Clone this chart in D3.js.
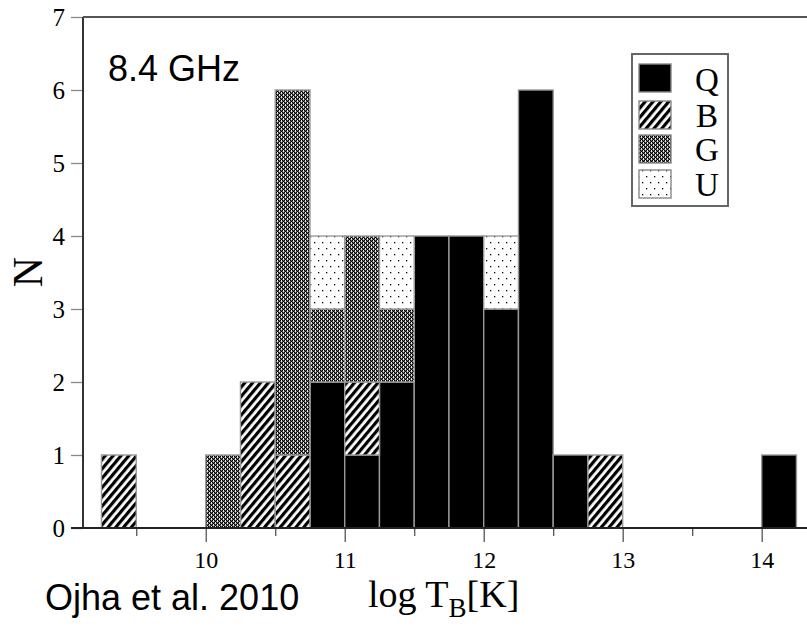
<!DOCTYPE html>
<html><head><meta charset="utf-8">
<script src="https://cdn.jsdelivr.net/npm/d3@7"></script>
<style>
body{margin:0;background:#fff;}
svg{display:block;}
</style></head>
<body>
<svg id="chart" width="807" height="626"></svg>
<script>
// ---- data ----
const binStart = [9.25, 10.0, 10.25, 10.5, 10.75, 11.0, 11.25, 11.5, 11.75, 12.0, 12.25, 12.5, 12.75, 14.0];
const seriesQ  = [0,    0,    0,     0,    2,     1,    2,     4,    4,     3,    6,     1,    0,     1];
const seriesB  = [1,    0,    2,     1,    0,     1,    0,     0,    0,     0,    0,     0,    1,     0];
const seriesG  = [0,    1,    0,     5,    1,     2,    1,     0,    0,     0,    0,     0,    0,     0];
const seriesU  = [0,    0,    0,     0,    1,     0,    1,     0,    0,     1,    0,     0,    0,     0];
const seriesNames = ["Q", "B", "G", "U"];
const binWidth = 0.25;
const xMajorTicks = [10, 11, 12, 13, 14];
const xMinorTicks = [9.5, 10.5, 11.5, 12.5, 13.5];
const yTicks = [0, 1, 2, 3, 4, 5, 6, 7];
const xDomain = [9.117, 14.326];
const yDomain = [0, 7];

const svg = d3.select("#chart");
const L = 83, R = 807, T = 17, B = 528;
const x = d3.scaleLinear().domain(xDomain).range([L, R]);
const y = d3.scaleLinear().domain(yDomain).range([B, T]);

// ---- patterns ----
const defs = svg.append("defs");
const fills = {Q: "#000", B: "url(#patB)", G: "url(#patG)", U: "url(#patU)"};
const pB = defs.append("pattern").attr("id", "patB").attr("patternUnits", "userSpaceOnUse")
  .attr("width", 6).attr("height", 6).attr("patternTransform", "rotate(40)");
pB.append("rect").attr("width", 6).attr("height", 6).attr("fill", "#fff");
pB.append("rect").attr("width", 3.2).attr("height", 6).attr("fill", "#000");

const pG = defs.append("pattern").attr("id", "patG").attr("patternUnits", "userSpaceOnUse")
  .attr("width", 4).attr("height", 4);
pG.append("rect").attr("width", 4).attr("height", 4).attr("fill", "#5a5a5a");
[[0,0],[2,0],[0,2],[2,2],[1,3],[3,1]].forEach(([a,b]) => {
  pG.append("rect").attr("x", a).attr("y", b).attr("width", 1).attr("height", 1).attr("fill", "#000");
});
[[1,1],[3,3],[1,0],[3,2]].forEach(([a,b]) => {
  pG.append("rect").attr("x", a).attr("y", b).attr("width", 1).attr("height", 1).attr("fill", "#e8e8e8");
});

const pU = defs.append("pattern").attr("id", "patU").attr("patternUnits", "userSpaceOnUse")
  .attr("width", 8).attr("height", 12);
pU.append("rect").attr("width", 8).attr("height", 12).attr("fill", "#fff");
pU.append("rect").attr("x", 2).attr("y", 2).attr("width", 1.3).attr("height", 1.3).attr("fill", "#000");
pU.append("rect").attr("x", 6).attr("y", 8).attr("width", 1.3).attr("height", 1.3).attr("fill", "#000");

// ---- stacked bars ----
const rows = binStart.map((s, i) => ({x0: s, Q: seriesQ[i], B: seriesB[i], G: seriesG[i], U: seriesU[i]}));
const stack = d3.stack().keys(seriesNames)(rows);
const gBars = svg.append("g");
stack.forEach(layer => {
  gBars.selectAll(null).data(layer.filter(d => d[1] > d[0])).enter().append("rect")
    .attr("x", d => x(d.data.x0))
    .attr("width", d => x(d.data.x0 + binWidth) - x(d.data.x0))
    .attr("y", d => y(d[1]))
    .attr("height", d => y(d[0]) - y(d[1]))
    .attr("fill", fills[layer.key])
    .attr("stroke", "#999").attr("stroke-width", 1.4);
});

// ---- axes ----
const serif = "'Liberation Serif', 'DejaVu Serif', serif";
const sans = "'Liberation Sans', Arial, sans-serif";

const yAxis = svg.append("g").attr("transform", `translate(${L},0)`)
  .call(d3.axisLeft(y).tickValues(yTicks).tickFormat(d3.format("d")).tickSize(12).tickPadding(6));
yAxis.select(".domain").remove();
yAxis.selectAll(".tick line").attr("stroke", "#888").attr("stroke-width", 1.3);
yAxis.selectAll(".tick text").attr("font-family", serif).attr("font-size", 25).attr("fill", "#000");

const xAxis = svg.append("g").attr("transform", `translate(0,${B})`)
  .call(d3.axisBottom(x).tickValues(xMajorTicks).tickFormat(d3.format("d")).tickSize(14).tickPadding(9));
xAxis.select(".domain").remove();
xAxis.selectAll(".tick line").attr("stroke", "#555").attr("stroke-width", 1.3);
xAxis.selectAll(".tick text").attr("font-family", serif).attr("font-size", 24).attr("fill", "#000");

const xMinor = svg.append("g").attr("transform", `translate(0,${B})`)
  .call(d3.axisBottom(x).tickValues(xMinorTicks).tickFormat("").tickSize(8));
xMinor.select(".domain").remove();
xMinor.selectAll(".tick line").attr("stroke", "#555").attr("stroke-width", 1.3);

// frame
svg.append("line").attr("x1", L).attr("x2", L).attr("y1", T).attr("y2", B).attr("stroke", "#333").attr("stroke-width", 2);
svg.append("line").attr("x1", L).attr("x2", R).attr("y1", T).attr("y2", T).attr("stroke", "#555").attr("stroke-width", 2);
svg.append("line").attr("x1", L - 12).attr("x2", R).attr("y1", B).attr("y2", B).attr("stroke", "#222").attr("stroke-width", 2);

// ---- legend ----
const lg = svg.append("g");
lg.append("rect").attr("x", 632).attr("y", 54).attr("width", 96).attr("height", 152)
  .attr("fill", "#fff").attr("stroke", "#666").attr("stroke-width", 2);
const swY = [64, 101, 135, 170];
const lblY = [91, 127, 161, 196];
seriesNames.forEach((k, i) => {
  lg.append("rect").attr("x", 639).attr("y", swY[i]).attr("width", 32).attr("height", 28)
    .attr("fill", fills[k]).attr("stroke", "#888").attr("stroke-width", 1.4);
  lg.append("text").attr("x", 707).attr("y", lblY[i]).attr("text-anchor", "middle")
    .attr("font-family", serif).attr("font-size", 33).text(k);
});

// ---- titles ----
svg.append("text").attr("x", 108).attr("y", 81).attr("font-family", sans).attr("font-size", 36).text("8.4 GHz");
svg.append("text").attr("x", 45).attr("y", 610).attr("font-family", sans).attr("font-size", 36).text("Ojha et al. 2010");

const xl = svg.append("text").attr("x", 368).attr("y", 607).attr("font-family", serif).attr("font-size", 38);
xl.append("tspan").text("log T");
xl.append("tspan").attr("dy", 10).attr("font-size", 27).text("B");
xl.append("tspan").attr("dy", -10).text("[K]");

svg.append("text").attr("transform", "translate(42,272) rotate(-90)").attr("text-anchor", "middle")
  .attr("font-family", serif).attr("font-size", 42).text("N");
</script>
</body></html>
